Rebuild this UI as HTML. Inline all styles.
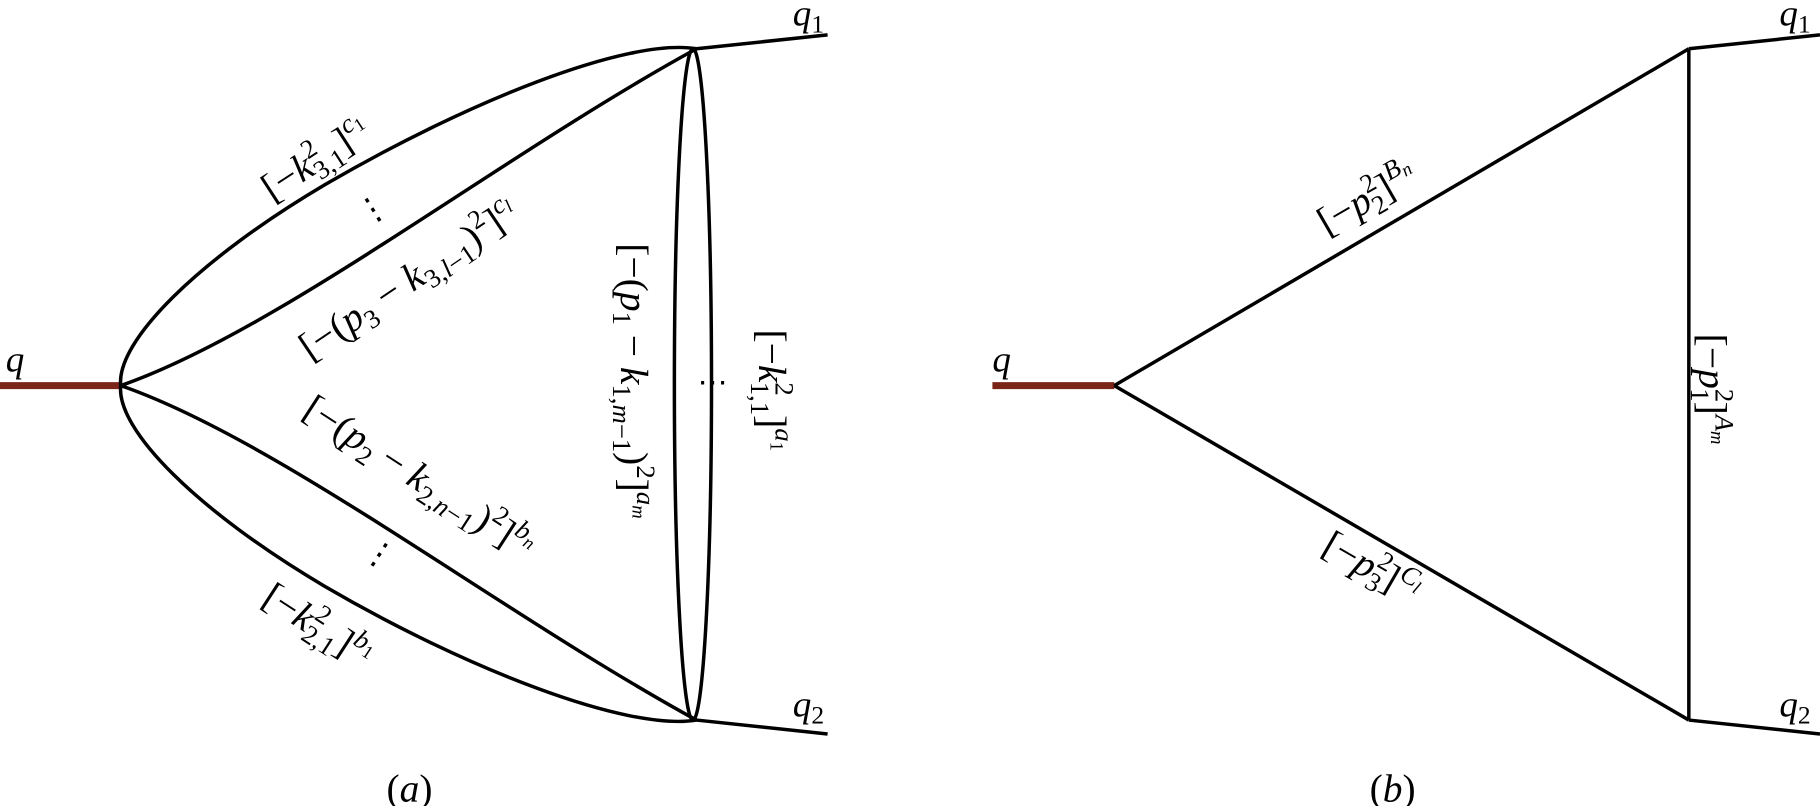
<!DOCTYPE html>
<html><head><meta charset="utf-8"><style>
html,body{margin:0;padding:0;background:#fff;}
svg{display:block;}
text{font-family:"Liberation Serif",serif;fill:#000;}
.i{font-style:italic;}
</style></head><body>
<svg width="1820" height="806" viewBox="0 0 1568 694" preserveAspectRatio="none" xmlns="http://www.w3.org/2000/svg">
<g fill="none" stroke="#000" stroke-width="3">
  <line x1="0" y1="332" x2="104" y2="332" stroke="#7a2518" stroke-width="6"/>
  <path d="M104,332 C100,294 170,224 280,159 C400,89 540,32 600,42"/>
  <path d="M104,332 C240,285 430,135 600,42"/>
  <path d="M104,332 C240,379 430,527 600,620"/>
  <path d="M104,332 C100,370 170,440 280,505 C400,575 540,630 600,620"/>
  <ellipse cx="597" cy="331" rx="16" ry="289"/>
  <line x1="600" y1="42" x2="713" y2="30"/>
  <line x1="600" y1="620" x2="713" y2="632"/>
  <line x1="855" y1="332" x2="960" y2="332" stroke="#7a2518" stroke-width="6"/>
  <line x1="960" y1="332" x2="1455" y2="42"/>
  <line x1="960" y1="332" x2="1455" y2="620"/>
  <line x1="1455" y1="42" x2="1455" y2="620"/>
  <line x1="1455" y1="42" x2="1568" y2="30"/>
  <line x1="1455" y1="620" x2="1568" y2="632"/>
</g>
<g font-size="34">
  <text x="5" y="320" class="i" font-size="32">q</text>
  <text x="683" y="22" class="i" font-size="32">q<tspan font-size="22" font-style="normal" dy="6">1</tspan></text>
  <text x="683" y="617" class="i" font-size="32">q<tspan font-size="22" font-style="normal" dy="6">2</tspan></text>
  <text x="333" y="690">(<tspan class="i">a</tspan>)</text>

  <text transform="translate(278,146) rotate(-33)" text-anchor="middle">[−<tspan class="i">k</tspan><tspan font-size="23" dy="-14">2</tspan><tspan font-size="23" dx="-12" dy="21">3,1</tspan><tspan dy="-7">]</tspan><tspan class="i" font-size="23" dy="-14">c</tspan><tspan font-size="16" dy="4">1</tspan></text>
  <text transform="translate(326,188) rotate(-32)" text-anchor="middle" font-size="28">⋮</text>
  <text transform="translate(358,250) rotate(-34)" text-anchor="middle">[−(<tspan class="i">p</tspan><tspan font-size="23" dy="7">3</tspan><tspan dy="-7"> − </tspan><tspan class="i">k</tspan><tspan font-size="23" dy="7">3,<tspan class="i">l</tspan>−1</tspan><tspan dy="-7">)</tspan><tspan font-size="23" dy="-14">2</tspan><tspan dy="14">]</tspan><tspan class="i" font-size="23" dy="-14">c<tspan font-size="16" dy="4">l</tspan></tspan></text>
  <text transform="translate(355,420) rotate(33)" text-anchor="middle">[−(<tspan class="i">p</tspan><tspan font-size="23" dy="7">2</tspan><tspan dy="-7"> − </tspan><tspan class="i">k</tspan><tspan font-size="23" dy="7">2,<tspan class="i">n</tspan>−1</tspan><tspan dy="-7">)</tspan><tspan font-size="23" dy="-14">2</tspan><tspan dy="14">]</tspan><tspan class="i" font-size="23" dy="-14">b<tspan font-size="16" dy="4">n</tspan></tspan></text>
  <text transform="translate(322,485) rotate(33)" text-anchor="middle" font-size="28">⋮</text>
  <text transform="translate(268,548) rotate(33)" text-anchor="middle">[−<tspan class="i">k</tspan><tspan font-size="23" dy="-14">2</tspan><tspan font-size="23" dx="-12" dy="21">2,1</tspan><tspan dy="-7">]</tspan><tspan class="i" font-size="23" dy="-14">b</tspan><tspan font-size="16" dy="4">1</tspan></text>
  <text transform="translate(535,328) rotate(90)" text-anchor="middle">[−(<tspan class="i">p</tspan><tspan font-size="23" dy="7">1</tspan><tspan dy="-7"> − </tspan><tspan class="i">k</tspan><tspan font-size="23" dy="7">1,<tspan class="i">m</tspan>−1</tspan><tspan dy="-7">)</tspan><tspan font-size="23" dy="-14">2</tspan><tspan dy="14">]</tspan><tspan class="i" font-size="23" dy="-14">a<tspan font-size="16" dy="4">m</tspan></tspan></text>
  <text transform="translate(654,336) rotate(90)" text-anchor="middle">[−<tspan class="i">k</tspan><tspan font-size="23" dy="-14">2</tspan><tspan font-size="23" dx="-12" dy="21">1,1</tspan><tspan dy="-7">]</tspan><tspan class="i" font-size="23" dy="-14">a</tspan><tspan font-size="16" dy="4">1</tspan></text>
  <text x="614" y="338" text-anchor="middle" font-size="26">⋯</text>

  <text x="855" y="320" class="i" font-size="32">q</text>
  <text x="1533" y="22" class="i" font-size="32">q<tspan font-size="22" font-style="normal" dy="6">1</tspan></text>
  <text x="1533" y="617" class="i" font-size="32">q<tspan font-size="22" font-style="normal" dy="6">2</tspan></text>
  <text x="1180" y="690">(<tspan class="i">b</tspan>)</text>
  <text transform="translate(1183,180) rotate(-30)" text-anchor="middle">[−<tspan class="i">p</tspan><tspan font-size="23" dy="-14">2</tspan><tspan font-size="23" dx="-12" dy="21">2</tspan><tspan dy="-7">]</tspan><tspan class="i" font-size="23" dy="-14">B</tspan><tspan class="i" font-size="16" dy="4">n</tspan></text>
  <text transform="translate(1176,498) rotate(30)" text-anchor="middle">[−<tspan class="i">p</tspan><tspan font-size="23" dy="-14">2</tspan><tspan font-size="23" dx="-12" dy="21">3</tspan><tspan dy="-7">]</tspan><tspan class="i" font-size="23" dy="-14">C</tspan><tspan class="i" font-size="16" dy="4">l</tspan></text>
  <text transform="translate(1464,335) rotate(90)" text-anchor="middle">[−<tspan class="i">p</tspan><tspan font-size="23" dy="-14">2</tspan><tspan font-size="23" dx="-12" dy="21">1</tspan><tspan dy="-7">]</tspan><tspan class="i" font-size="23" dy="-14">A</tspan><tspan class="i" font-size="16" dy="4">m</tspan></text>
</g>
</svg>
</body></html>
